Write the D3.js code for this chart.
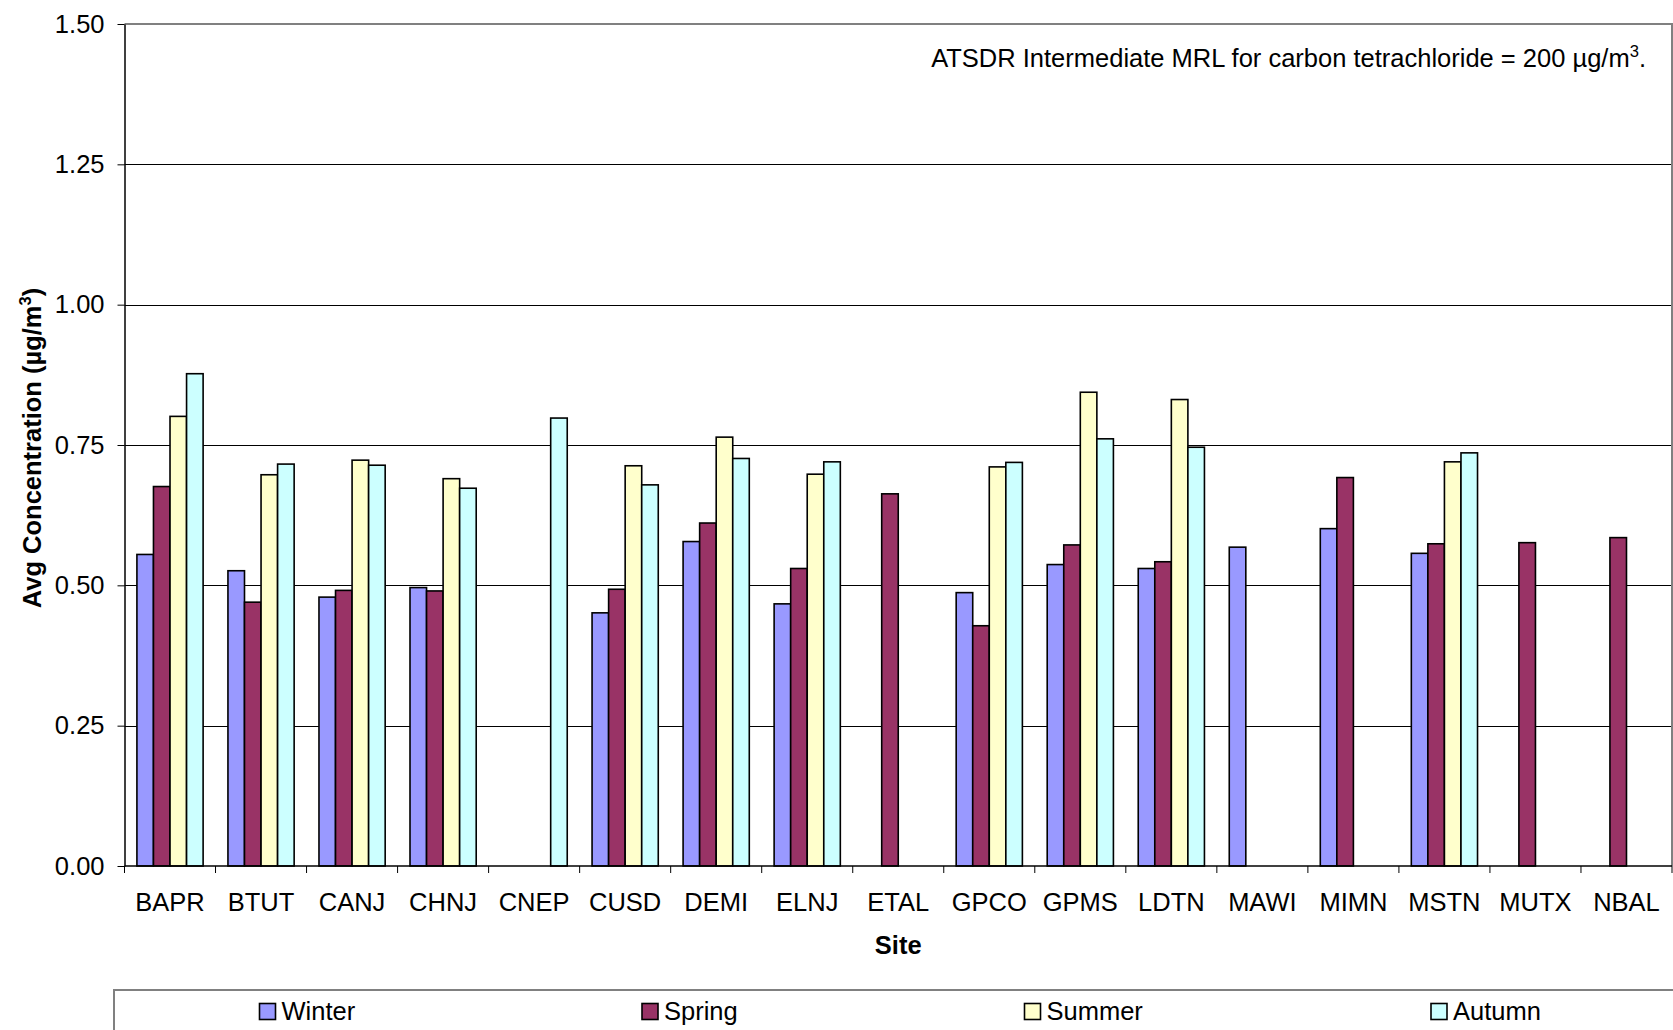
<!DOCTYPE html>
<html>
<head>
<meta charset="utf-8">
<script src="https://cdn.jsdelivr.net/npm/d3@7/dist/d3.min.js"></script>
<style>
  html, body { margin: 0; padding: 0; background: #fff; }
  svg { display: block; font-family: "Liberation Sans", Arial, sans-serif; }
</style>
</head>
<body>
<svg id="chart" width="1673" height="1030"></svg>
<script>
// Monitoring sites along the x axis
const sites = ["BAPR", "BTUT", "CANJ", "CHNJ", "CNEP", "CUSD", "DEMI", "ELNJ", "ETAL",
               "GPCO", "GPMS", "LDTN", "MAWI", "MIMN", "MSTN", "MUTX", "NBAL"];

// Seasonal average concentrations (µg/m³); null where no season average exists
const seasons = ["Winter", "Spring", "Summer", "Autumn"];
const winter = [0.555, 0.526, 0.479, 0.496, null, 0.451, 0.578, 0.467, null,
                0.487, 0.537, 0.530, 0.568, 0.601, 0.557, null, null];
const spring = [0.676, 0.470, 0.491, 0.490, null, 0.493, 0.611, 0.530, 0.663,
                0.428, 0.572, 0.542, null, 0.692, 0.574, 0.576, 0.585];
const summer = [0.801, 0.697, 0.723, 0.690, null, 0.713, 0.764, 0.698, null,
                0.711, 0.844, 0.831, null, null, 0.720, null, null];
const autumn = [0.877, 0.716, 0.714, 0.673, 0.798, 0.679, 0.726, 0.720, null,
                0.719, 0.761, 0.746, null, null, 0.736, null, null];
const seriesValues = [winter, spring, summer, autumn];
const seasonColors = ["#9999FF", "#993366", "#FFFFCC", "#CCFFFF"];

const yTicks = [0, 0.25, 0.5, 0.75, 1.0, 1.25, 1.5];

const FS = 25.5;

const svg = d3.select("#chart");
const plot = { left: 124.5, right: 1672, top: 24, bottom: 866 };

const x = d3.scaleBand().domain(sites).range([plot.left, plot.right]).padding(0);
const xs = d3.scaleBand().domain(seasons).range([0, x.bandwidth()])
  .paddingInner(0).paddingOuter(0.75);
const y = d3.scaleLinear().domain([0, 1.5]).range([plot.bottom, plot.top]);

// Horizontal gridlines
svg.append("g").selectAll("line")
  .data(yTicks.filter(t => t > 0 && t < 1.5))
  .join("line")
  .attr("x1", plot.left).attr("x2", plot.right)
  .attr("y1", d => Math.round(y(d)) + 0.5).attr("y2", d => Math.round(y(d)) + 0.5)
  .attr("stroke", "#000").attr("stroke-width", 1);

// Plot area frame (top and right edges)
svg.append("path")
  .attr("d", `M${plot.left},${plot.top}H${plot.right}V${plot.bottom}`)
  .attr("fill", "none").attr("stroke", "#808080").attr("stroke-width", 2);

// Bars
const rows = [];
sites.forEach((s, i) => {
  seasons.forEach((se, j) => {
    const v = seriesValues[j][i];
    if (v != null) rows.push({ site: s, season: se, value: v, color: seasonColors[j] });
  });
});
svg.append("g").selectAll("rect")
  .data(rows)
  .join("rect")
  .attr("x", d => x(d.site) + xs(d.season))
  .attr("y", d => y(d.value))
  .attr("width", xs.bandwidth())
  .attr("height", d => y(0) - y(d.value))
  .attr("fill", d => d.color)
  .attr("stroke", "#000")
  .attr("stroke-width", 1.6);

// Y axis
const yAxis = svg.append("g")
  .attr("transform", `translate(${plot.left},0)`)
  .call(d3.axisLeft(y).tickValues(yTicks).tickFormat(d3.format(".2f"))
    .tickSizeInner(7).tickSizeOuter(0).tickPadding(13));
yAxis.select(".domain").attr("stroke", "#000").attr("stroke-width", 1.5);
yAxis.selectAll(".tick line").attr("stroke", "#000");
yAxis.selectAll("text").attr("font-size", FS).attr("fill", "#000")
  .attr("font-family", "Liberation Sans, Arial, sans-serif");

// X axis: baseline, ticks between categories, labels at band centres
const xAxis = svg.append("g").attr("transform", `translate(0,${plot.bottom})`);
xAxis.append("line")
  .attr("x1", plot.left).attr("x2", plot.right)
  .attr("stroke", "#000").attr("stroke-width", 1.5);
xAxis.selectAll(".sep")
  .data(sites.map(s => x(s)).concat([plot.right]))
  .join("line").attr("class", "sep")
  .attr("x1", d => d).attr("x2", d => d)
  .attr("y1", 0).attr("y2", 7)
  .attr("stroke", "#000").attr("stroke-width", 1);
xAxis.selectAll(".lbl")
  .data(sites)
  .join("text").attr("class", "lbl")
  .attr("x", d => x(d) + x.bandwidth() / 2)
  .attr("y", 45)
  .attr("text-anchor", "middle")
  .attr("font-size", FS)
  .text(d => d);

// Axis titles
svg.append("text")
  .attr("x", (plot.left + plot.right) / 2).attr("y", 954)
  .attr("text-anchor", "middle").attr("font-size", FS).attr("font-weight", "bold")
  .text("Site");

const yTitle = svg.append("text")
  .attr("transform", "translate(41,448) rotate(-90)")
  .attr("text-anchor", "middle").attr("font-size", FS).attr("font-weight", "bold");
yTitle.append("tspan").text("Avg Concentration (µg/m");
yTitle.append("tspan").attr("dy", "-0.6em").attr("font-size", "0.65em").text("3");
yTitle.append("tspan").attr("dy", "0.39em").text(")");

// Reference level note
const note = svg.append("text")
  .attr("x", 1646).attr("y", 67)
  .attr("text-anchor", "end").attr("font-size", FS);
note.append("tspan").text("ATSDR Intermediate MRL for carbon tetrachloride = 200 µg/m");
note.append("tspan").attr("dy", "-0.6em").attr("font-size", "0.65em").text("3");
note.append("tspan").attr("dy", "0.39em").text(".");

// Legend
svg.append("rect")
  .attr("x", 114).attr("y", 990)
  .attr("width", 1600).attr("height", 100)
  .attr("fill", "#fff").attr("stroke", "#808080").attr("stroke-width", 2);
const legendX = [259.5, 642, 1024.5, 1431];
const legend = svg.append("g").selectAll("g")
  .data(seasons)
  .join("g")
  .attr("transform", (d, i) => `translate(${legendX[i]},1003.5)`);
legend.append("rect")
  .attr("width", 16).attr("height", 16)
  .attr("fill", (d, i) => seasonColors[i])
  .attr("stroke", "#000").attr("stroke-width", 1.6);
legend.append("text")
  .attr("x", 22).attr("y", 16.5)
  .attr("font-size", FS)
  .text(d => d);
</script>
</body>
</html>
